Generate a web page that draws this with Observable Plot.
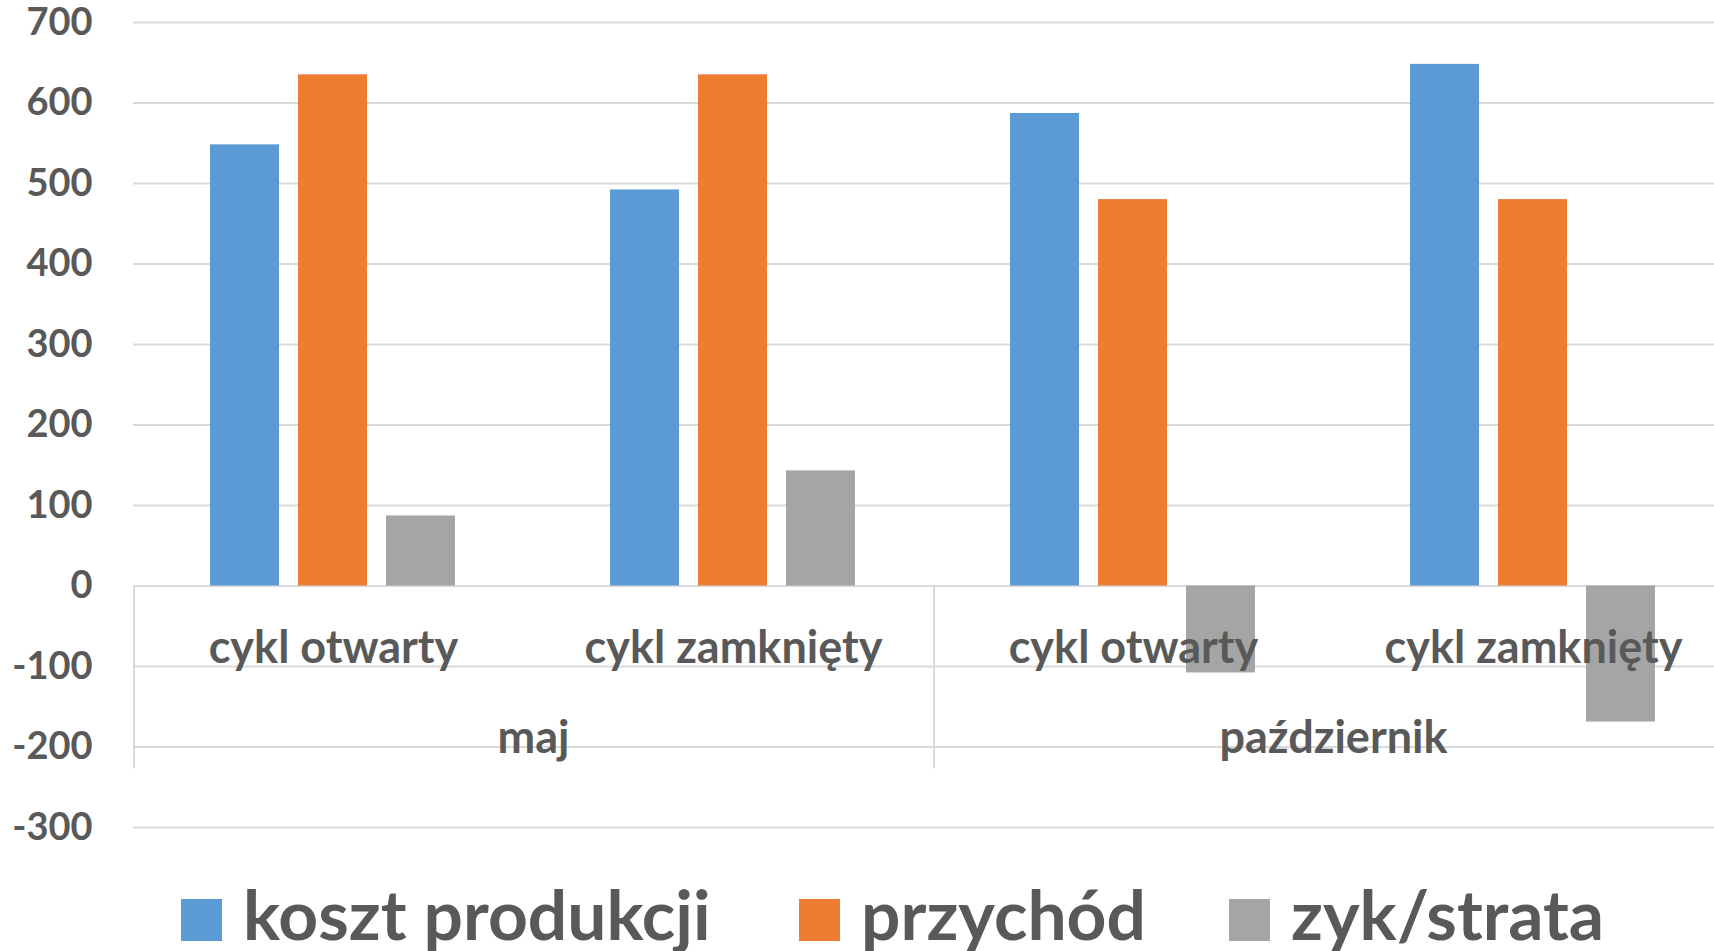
<!DOCTYPE html>
<html>
<head>
<meta charset="utf-8">
<script src="https://cdn.jsdelivr.net/npm/d3@7"></script>
<script src="https://cdn.jsdelivr.net/npm/@observablehq/plot@0.6"></script>
<style>
  html, body { margin: 0; padding: 0; background: #fff; overflow: hidden; width: 1714px; height: 951px; }
  #chart { position: absolute; left: 0; top: 0; }
  #legend { position: absolute; left: 0; top: 0; width: 1714px; height: 951px; pointer-events: none;
            font-family: Lato, "Open Sans", sans-serif; font-weight: bold; color: #595959; }
  .sw { position: absolute; width: 41px; height: 42px; top: 899px; }
  .lt { position: absolute; top: 879px; font-size: 69.5px; line-height: 69.5px; white-space: nowrap; }
</style>
</head>
<body>
<div id="chart"></div>
<div id="legend"></div>
<script>
// ---- data ----
const months = ["maj", "maj", "październik", "październik"];
const cycles = ["cykl otwarty", "cykl zamknięty", "cykl otwarty", "cykl zamknięty"];
const series = ["koszt produkcji", "przychód", "zyk/strata"];
const koszt = [548, 492, 587, 648];
const przychod = [635, 635, 480, 480];
const zysk = [87, 143, -108, -169];
const yTicks = [-300, -200, -100, 0, 100, 200, 300, 400, 500, 600, 700];
const colors = ["#5B9BD5", "#ED7D31", "#A5A5A5"];

const keys = months.map((m, i) => m + "|" + cycles[i]);
const values = [koszt, przychod, zysk];
const rows = [];
keys.forEach((k, i) => series.forEach((s, j) => rows.push({key: k, month: months[i], cycle: cycles[i], series: s, value: values[j][i]})));
const subcats = keys.map((k, i) => ({key: k, month: months[i], cycle: cycles[i]}));
// month label sits at the boundary between the two cycles of a month (left edge of the 2nd cycle)
const monthLabels = subcats.filter((d, i) => i % 2 === 1);
const monthStarts = subcats.filter((d, i) => i % 2 === 0);

// ---- layout ----
const W = 1714, H = 850;
const mL = 133, mR = -19, mT = 22, mB = 23;
const pIn = 0.2135, pOut = 0.854;
const facetW = (W - mL - mR) / keys.length;
const step = facetW / (series.length - pIn + 2 * pOut);
const bw = step * (1 - pIn);
const sepDx = -(pOut * step + bw / 2);
const gray = "#595959";
const font = "Lato, 'Open Sans', sans-serif";

const chart = Plot.plot({
  width: W, height: H,
  marginLeft: mL, marginRight: mR, marginTop: mT, marginBottom: mB,
  style: {fontFamily: font, fontSize: "38px", fontWeight: "bold", color: gray, background: "#fff"},
  fx: {domain: keys, padding: 0, axis: null},
  x: {domain: series, paddingInner: pIn, paddingOuter: pOut, axis: null},
  y: {domain: [-300, 700], ticks: yTicks, tickSize: 0, tickPadding: 41, label: null, tickFormat: d => String(d)},
  color: {domain: series, range: colors},
  marks: [
    Plot.ruleY(yTicks, {stroke: "#D9D9D9", strokeWidth: 2}),
    Plot.barY(rows, {fx: "key", x: "series", y: "value", fill: "series"}),
    Plot.ruleX(monthStarts, {fx: "key", x: () => series[0], y1: 0, y2: -227, dx: sepDx, stroke: "#D9D9D9", strokeWidth: 2}),
    Plot.text(subcats, {fx: "key", y: 0, text: "cycle", dy: 63, fontSize: 45, fill: gray, fontWeight: "bold"}),
    Plot.text(monthLabels, {fx: "key", y: 0, text: "month", frameAnchor: "left", textAnchor: "middle", dy: 153, fontSize: 45, fill: gray, fontWeight: "bold"})
  ]
});
document.getElementById("chart").appendChild(chart);

// ---- legend ----
const legend = document.getElementById("legend");
const swX = [181, 799, 1229];
series.forEach((s, i) => {
  const sw = document.createElement("div");
  sw.className = "sw";
  sw.style.left = swX[i] + "px";
  sw.style.background = colors[i];
  legend.appendChild(sw);
  const t = document.createElement("div");
  t.className = "lt";
  t.style.left = (swX[i] + 62) + "px";
  t.textContent = s;
  legend.appendChild(t);
});
</script>
</body>
</html>
